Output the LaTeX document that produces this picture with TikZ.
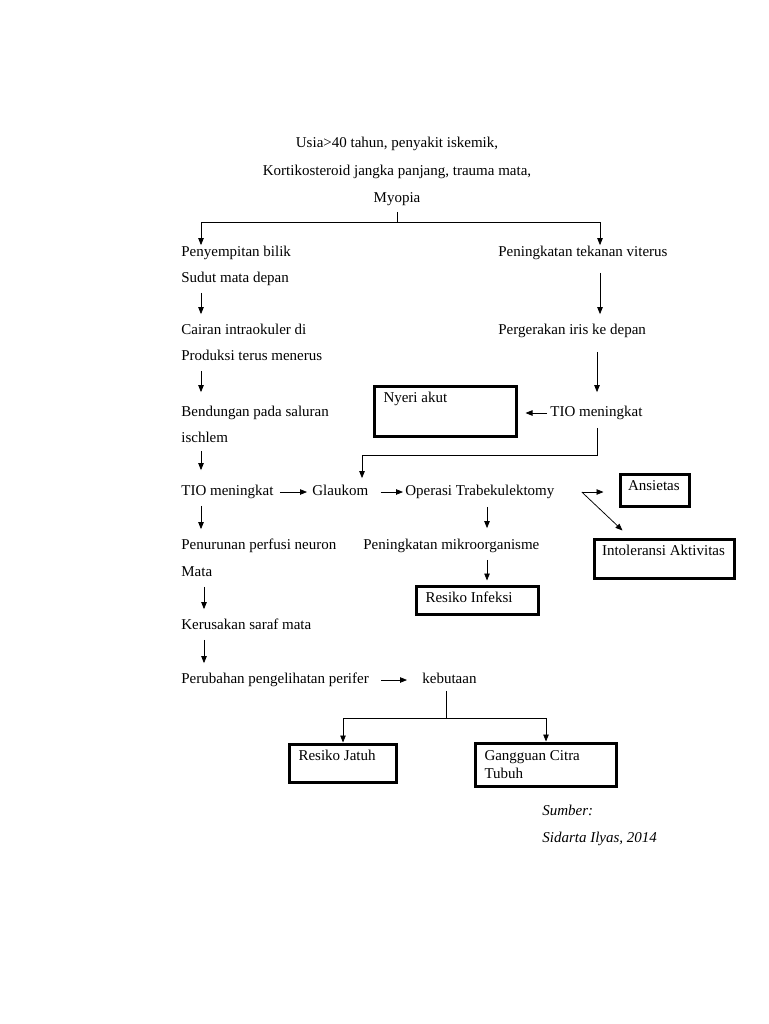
\documentclass[tikz,border=0pt]{standalone}
\usepackage{fontspec}
\setmainfont{Liberation Serif}
\usetikzlibrary{positioning, arrows.meta, calc}

\begin{document}
\begin{tikzpicture}[
    % GLOBAL CFG
    x=1pt, y=1pt,
    font=\fontsize{15}{18}\selectfont,
    >={Triangle[length=7pt,width=5.5pt]},
    line width=0.75pt,
    % Styles
    txt/.style={% plain text lines
        anchor=west,
        inner sep=0pt,
        text height=11pt,
        text depth=4pt,
        },
    judul/.style={% centred lines on top
        txt,
        anchor=center,
        },
    kotak/.style={% boxed diagnoses
        draw,
        line width=3pt,
        anchor=north west,
        outer sep=0pt,
        align=flush left,
        inner xsep=9pt,
        inner ysep=5pt,
        },
    satubaris/.style={% one line of text at the top of a box
        text height=11pt,
        text depth=#1,
        },
    panah/.style={% plain arrows
        ->,
        line width=0.75pt,
        },
    turun/.style={% arrows down a column
        panah,
        shorten <=6pt,
        shorten >=9pt,
        },
    ]

    \useasboundingbox (0,0) rectangle (768,-1024);

    % Causes on top
    \node[judul] (usia) at (397,-144) {Usia>40 tahun, penyakit iskemik,};
    \node[judul] (korti) at (397,-172) {Kortikosteroid jangka panjang, trauma mata,};
    \node[judul] (myopia) at (397,-199) {Myopia};

    % Left column
    \node[txt] (bilik) at (181,-253) {Penyempitan bilik};
    \node[txt] (sudut) at (181,-279) {Sudut mata depan};
    \node[txt] (cairan) at (181,-331) {Cairan intraokuler di};
    \node[txt] (produksi) at (181,-357) {Produksi terus menerus};
    \node[txt] (bendungan) at (181,-413) {Bendungan pada saluran};
    \node[txt] (ischlem) at (181,-439) {ischlem};
    \node[txt] (tio1) at (181,-492) {TIO meningkat};
    \node[txt] (perfusi) at (181,-546) {Penurunan perfusi neuron};
    \node[txt] (mata) at (181,-573) {Mata};
    \node[txt] (saraf) at (181,-626) {Kerusakan saraf mata};
    \node[txt] (perifer) at (181,-680) {Perubahan pengelihatan perifer};

    % Right column
    \node[txt] (viterus) at (498,-253) {Peningkatan tekanan viterus};
    \node[txt] (iris) at (498,-331) {Pergerakan iris ke depan};
    \node[txt] (tio2) at (550,-413) {TIO meningkat};

    % Middle
    \node[txt] (glaukom) at (312,-492) {Glaukom};
    \node[txt] (operasi) at (405,-492) {Operasi Trabekulektomy};
    \node[txt] (mikro) at (363,-546) {Peningkatan mikroorganisme};
    \node[txt] (buta) at (422,-680) {kebutaan};

    % Boxes
    \node[kotak, satubaris=29pt, text width=124pt] (nyeri) at (374.5,-386.5) {Nyeri akut};
    \node[kotak, satubaris=11pt, inner xsep=7.5pt, text width=54pt] (ansietas) at (620.5,-474.5) {Ansietas};
    \node[kotak, satubaris=18pt, inner xsep=7.5pt, text width=125pt] (intoleransi) at (594.5,-539.5) {Intoleransi Aktivitas};
    \node[kotak, satubaris=7pt, text width=104pt] (infeksi) at (416.5,-586.5) {Resiko Infeksi};
    \node[kotak, satubaris=17pt, text width=89pt] (jatuh) at (289.5,-744.5) {Resiko Jatuh};
    \node[kotak, minimum height=43pt, text width=123pt] (citra) at (475.5,-743.5) {Gangguan Citra\\Tubuh};

    % Source
    \node[txt] (sumber) at (542,-812) {\textit{Sumber:}};
    \node[txt] (sidarta) at (542,-839) {\textit{Sidarta Ilyas, 2014}};

    % Columns and branch points
    \coordinate (lx) at (201,0);
    \coordinate (lx2) at (204,0);
    \coordinate (rx1) at (600,0);
    \coordinate (rx2) at (597,0);
    \coordinate (mx) at (487,0);
    \coordinate (cab1) at (397,-222);
    \coordinate (belok) at (362,-455);
    \coordinate (cab2) at (446,-718);

    % Split from the causes
    \draw (myopia.south) ++(0,-5) -- (cab1);
    \draw [panah] (cab1) -| (bilik.north -| lx);
    \draw [panah] (cab1) -| (viterus.north -| rx1);

    % Left column arrows
    \draw [turun] (sudut.south -| lx) -- (cairan.north -| lx);
    \draw [turun, shorten >=13pt] (produksi.south -| lx) -- (bendungan.north -| lx);
    \draw [turun, shorten <=4pt, shorten >=14pt] (ischlem.south -| lx) -- (tio1.north -| lx);
    \draw [turun] (tio1.south -| lx) -- (perfusi.north -| lx);
    \draw [turun] (mata.south -| lx2) -- (saraf.north -| lx2);
    \draw [turun] (saraf.south -| lx2) -- (perifer.north -| lx2);

    % Right column arrows
    \draw [turun, shorten <=12pt] (viterus.south -| rx1) -- (iris.north -| rx1);
    \draw [turun, shorten <=13pt, shorten >=13pt] (iris.south -| rx2) -- (tio2.north -| rx2);
    \draw [panah, shorten <=3pt, shorten >=9pt] (tio2.west) -- (tio2.west -| nyeri.east);
    \draw [panah, shorten >=6pt] (tio2.south -| rx2) ++(0,-7) |- (belok) -- (glaukom.north -| belok);

    % Middle row
    \draw [panah, shorten <=6pt, shorten >=5pt] (tio1.east) -- (glaukom.west);
    \draw [panah, shorten <=12pt, shorten >=2pt] (glaukom.east) -- (operasi.west);
    \draw (operasi.east) ++(27,0) coordinate (cabang);
    \draw [panah, shorten >=17pt] (cabang) -- (ansietas.west |- cabang);
    \draw [panah] (cabang) -- ([xshift=28pt, yshift=9pt]intoleransi.north west);
    \draw [turun, shorten <=7pt, shorten >=10pt] (operasi.south -| mx) -- (mikro.north -| mx);
    \draw [turun, shorten >=6pt] (mikro.south -| mx) -- (infeksi.north -| mx);

    % Bottom
    \draw [panah, shorten <=12pt, shorten >=15pt] (perifer.east) -- (buta.west);
    \draw (buta.south -| cab2) ++(0,-3) -- (cab2);
    \draw [panah, shorten >=2pt] (cab2) -| (jatuh.north);
    \draw [panah, shorten >=2pt] (cab2) -| (citra.north);
\end{tikzpicture}
\end{document}
